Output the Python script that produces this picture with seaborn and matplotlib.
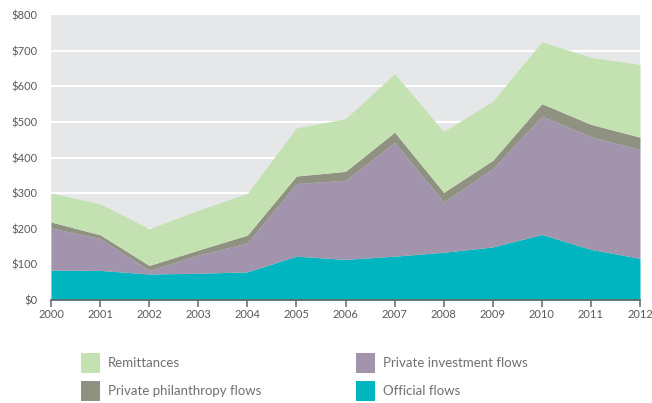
import matplotlib
matplotlib.use("Agg")
import matplotlib.pyplot as plt
from matplotlib.patches import Rectangle
import seaborn as sns
import numpy as np

years = [2000, 2001, 2002, 2003, 2004, 2005, 2006, 2007, 2008, 2009, 2010, 2011, 2012]
official = [84, 83, 73, 75, 79, 123, 114, 123, 134, 149, 184, 142, 117]
private_investment = [118, 90, 10, 51, 81, 204, 222, 320, 141, 220, 332, 317, 305]
philanthropy = [17, 10, 14, 14, 22, 21, 25, 28, 27, 23, 35, 34, 35]
remittances = [81, 87, 103, 112, 117, 135, 148, 164, 171, 166, 174, 188, 204]

labels = ["Official flows", "Private investment flows", "Private philanthropy flows", "Remittances"]
colors = ["#00b5bf", "#a294ad", "#8f9181", "#c4e1b1"]
y_ticks = [0, 100, 200, 300, 400, 500, 600, 700, 800]
y_ticklabels = ["$" + str(v) for v in y_ticks]

sns.set_theme(style="white")
plt.rcParams['font.family'] = ['Lato', 'DejaVu Sans']

fig = plt.figure(figsize=(6.52, 4.03), dpi=100)
ax = fig.add_axes([51 / 652, 1 - 300 / 403, 589 / 652, 285 / 403])
ax.set_facecolor("#e6e7e9")

ax.stackplot(years, official, private_investment, philanthropy, remittances,
             colors=colors, labels=labels, linewidth=0, zorder=3)

ax.set_xlim(2000, 2012)
ax.set_ylim(0, 800)
ax.set_yticks(y_ticks)
ax.set_yticklabels(y_ticklabels)
ax.set_xticks(years)
ax.set_xticklabels([str(y) for y in years])
for v in y_ticks[1:-1]:
    ax.axhline(v, color="white", lw=1.5, zorder=2)

for s in ["top", "right", "left"]:
    ax.spines[s].set_visible(False)
ax.spines["bottom"].set_color("#666666")
ax.spines["bottom"].set_linewidth(1.2)
ax.spines["bottom"].set_zorder(5)
ax.tick_params(axis="x", bottom=True, length=5, width=1.1, color="#666666",
               labelsize=8, labelcolor="#5a5a5a", pad=1.5)
ax.tick_params(axis="y", left=False, labelsize=8, labelcolor="#5a5a5a", pad=4)

# legend
W, H = 652, 403
leg = [("Remittances", colors[3], 81, 353),
       ("Private investment flows", colors[1], 356, 353),
       ("Private philanthropy flows", colors[2], 81, 381),
       ("Official flows", colors[0], 356, 381)]
for text, c, x, y in leg:
    fig.patches.append(Rectangle((x / W, 1 - (y + 20) / H), 19 / W, 20 / H,
                                 transform=fig.transFigure, facecolor=c, edgecolor="none"))
    fig.text((x + 27) / W, 1 - (y + 10) / H, text, fontsize=9.5, color="#707070",
             va="center", ha="left")

fig.savefig("out.png", dpi=100)
